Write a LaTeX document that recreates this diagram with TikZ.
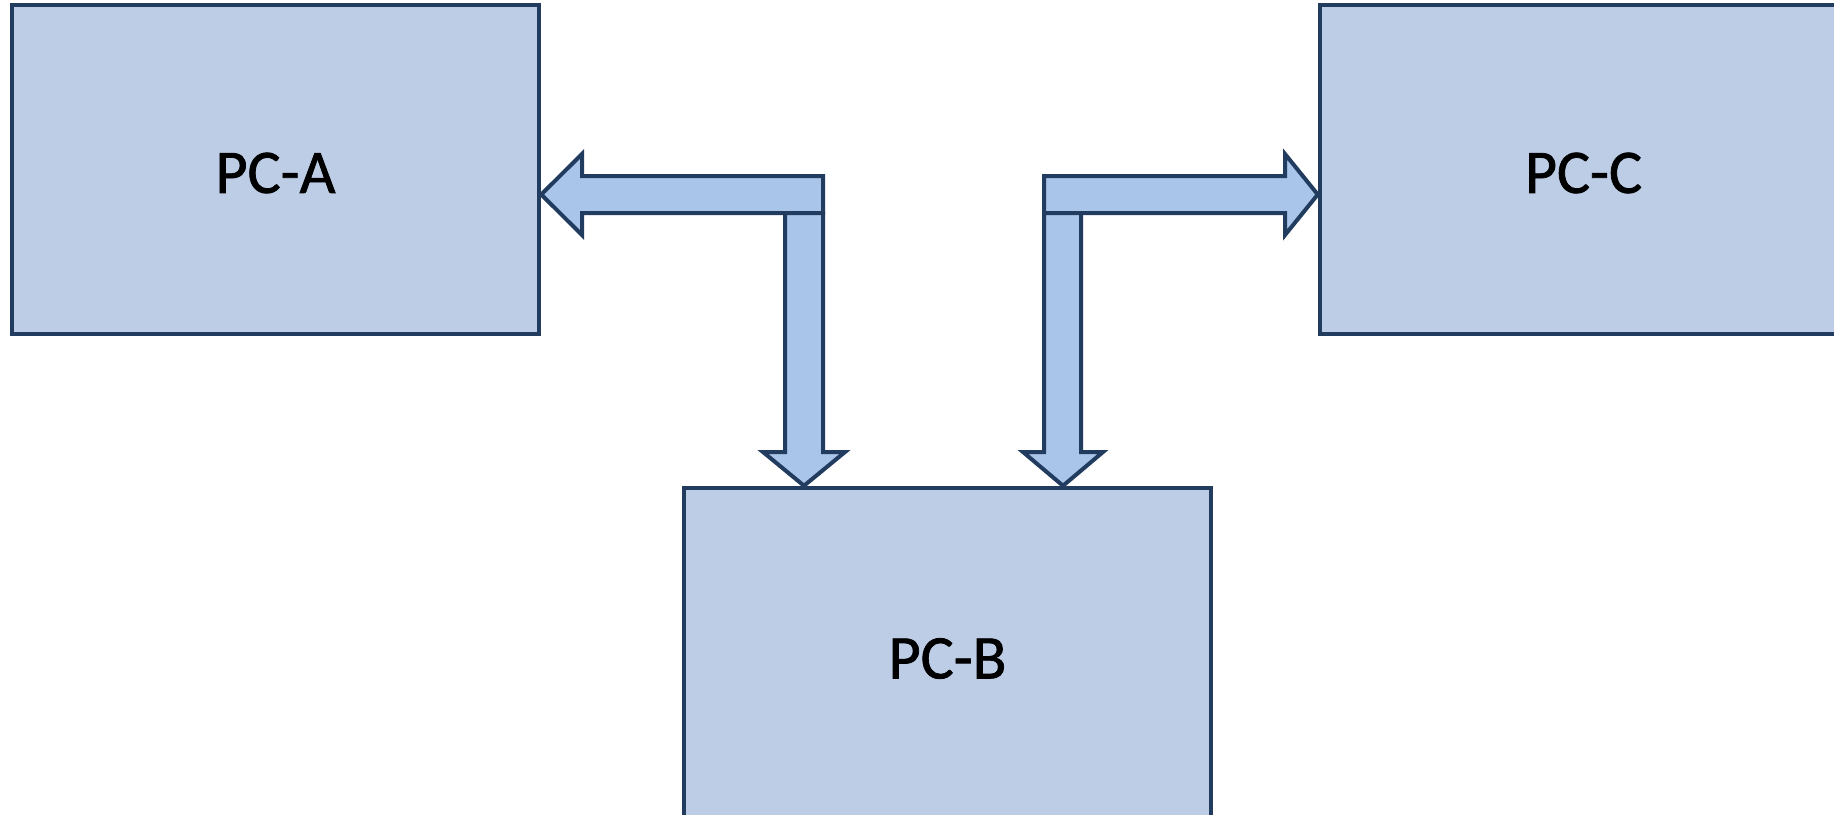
\documentclass[tikz,border=0pt]{standalone}
\usepackage{fontspec}
\setmainfont{Carlito}
\newfontfamily\pcfont[BoldFont=Carlito, BoldFeatures={FakeBold=1.2}]{Carlito}
\definecolor{boxfill}{HTML}{BCCDE5}
\definecolor{arrowfill}{HTML}{A9C5EA}
\definecolor{edge}{HTML}{213C5E}
\begin{document}
\begin{tikzpicture}[x=1pt,y=-1pt,
  pcbox/.style={draw=edge, fill=boxfill, line width=4.5pt, inner sep=0pt,
    minimum width=527pt},
  pclabel/.style={font=\pcfont\bfseries\fontsize{62}{70}\selectfont, inner sep=0pt},
  blockarrow/.style={draw=edge, fill=arrowfill, line width=4pt, line join=miter}]
\useasboundingbox (0,0) rectangle (1834,814);
\clip (0,0) rectangle (1834,814);
\node[pcbox, minimum height=329pt] (A) at (275.5,169.5) {};
\node[pcbox, minimum height=329pt] (C) at (1583.5,169.5) {};
\node[pcbox, minimum height=336pt] (B) at (947.5,656) {};
\node[pclabel] (tA) at ([yshift=-3.5pt]A.center) {PC-A};
\node[pclabel] (tC) at ([yshift=-3.5pt]C.center) {PC-C};
\node[pclabel] (tB) at ([yshift=-2.5pt]B.center) {PC-B};
% left bent arrow (to PC-A and PC-B)
\draw[blockarrow] (823,176) -- (582,176) -- (582,154) -- (A.east |- 0,194.5) -- (582,235) -- (582,213) -- (823,213) -- cycle;
\draw[blockarrow] (785,213) -- (785,452) -- (763,452) -- (804,0 |- B.north) -- (845,452) -- (823,452) -- (823,213) -- cycle;
% right bent arrow (to PC-C and PC-B)
\draw[blockarrow] (1044,176) -- (1285,176) -- (1285,154) -- (C.west |- 0,194.5) -- (1285,235) -- (1285,213) -- (1044,213) -- cycle;
\draw[blockarrow] (1044,213) -- (1044,452) -- (1023,452) -- (1063,0 |- B.north) -- (1103,452) -- (1081,452) -- (1081,213) -- cycle;
\end{tikzpicture}
\end{document}
